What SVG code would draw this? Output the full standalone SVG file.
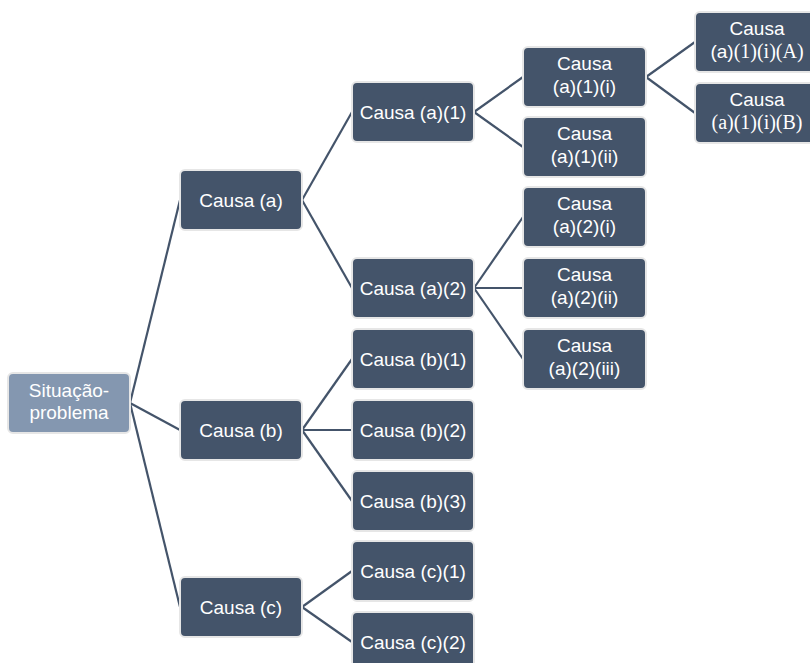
<svg xmlns="http://www.w3.org/2000/svg" width="810" height="663" viewBox="0 0 810 663">
<style>
.n rect{fill:#44546A;stroke:#E6E6E6;stroke-width:2}
#sp rect{fill:#8497B0}
text{font-family:"Liberation Sans",Arial,sans-serif;font-size:19px;fill:#FFFFFF;text-anchor:middle}
.m{font-family:"Liberation Serif","Times New Roman",serif;font-size:20px}
#edges line{stroke:#44546A;stroke-width:2.2}
</style>
<rect width="810" height="663" fill="#FFFFFF"/>
<g id="edges">
<line x1="130" y1="403" x2="180" y2="200"/>
<line x1="130" y1="403" x2="180" y2="430"/>
<line x1="130" y1="403" x2="180" y2="607"/>
<line x1="302" y1="200" x2="352" y2="112"/>
<line x1="302" y1="200" x2="352" y2="288"/>
<line x1="302" y1="430" x2="352" y2="359"/>
<line x1="302" y1="430" x2="352" y2="430"/>
<line x1="302" y1="430" x2="352" y2="501"/>
<line x1="302" y1="607" x2="352" y2="571"/>
<line x1="302" y1="607" x2="352" y2="642"/>
<line x1="474" y1="112" x2="523" y2="77"/>
<line x1="474" y1="112" x2="523" y2="147"/>
<line x1="474" y1="288" x2="523" y2="217"/>
<line x1="474" y1="288" x2="523" y2="288"/>
<line x1="474" y1="288" x2="523" y2="359"/>
<line x1="646" y1="77" x2="695" y2="42"/>
<line x1="646" y1="77" x2="695" y2="113"/>
</g>
<g id="sp" class="n"><rect x="8" y="373" width="122" height="60" rx="5"/><text x="69" y="397">Situação-</text><text x="69" y="419">problema</text></g>
<g id="a" class="n"><rect x="180" y="170" width="122" height="60" rx="5"/><text x="241" y="207">Causa (a)</text></g>
<g id="b" class="n"><rect x="180" y="400" width="122" height="60" rx="5"/><text x="241" y="437">Causa (b)</text></g>
<g id="c" class="n"><rect x="180" y="577" width="122" height="60" rx="5"/><text x="241" y="614">Causa (c)</text></g>
<g id="a1" class="n"><rect x="352" y="82" width="122" height="60" rx="5"/><text x="413" y="119">Causa (a)(1)</text></g>
<g id="a2" class="n"><rect x="352" y="258" width="122" height="60" rx="5"/><text x="413" y="295">Causa (a)(2)</text></g>
<g id="b1" class="n"><rect x="352" y="329" width="122" height="60" rx="5"/><text x="413" y="366">Causa (b)(1)</text></g>
<g id="b2" class="n"><rect x="352" y="400" width="122" height="60" rx="5"/><text x="413" y="437">Causa (b)(2)</text></g>
<g id="b3" class="n"><rect x="352" y="471" width="122" height="60" rx="5"/><text x="413" y="508">Causa (b)(3)</text></g>
<g id="c1" class="n"><rect x="352" y="541" width="122" height="60" rx="5"/><text x="413" y="578">Causa (c)(1)</text></g>
<g id="c2" class="n"><rect x="352" y="612" width="122" height="60" rx="5"/><text x="413" y="649">Causa (c)(2)</text></g>
<g id="a1i" class="n"><rect x="523" y="47" width="123" height="60" rx="5"/><text x="584.5" y="70">Causa</text><text x="584.5" y="93">(a)(1)(i)</text></g>
<g id="a1ii" class="n"><rect x="523" y="117" width="123" height="60" rx="5"/><text x="584.5" y="140">Causa</text><text x="584.5" y="163">(a)(1)(ii)</text></g>
<g id="a2i" class="n"><rect x="523" y="187" width="123" height="60" rx="5"/><text x="584.5" y="210">Causa</text><text x="584.5" y="233">(a)(2)(i)</text></g>
<g id="a2ii" class="n"><rect x="523" y="258" width="123" height="60" rx="5"/><text x="584.5" y="281">Causa</text><text x="584.5" y="304">(a)(2)(ii)</text></g>
<g id="a2iii" class="n"><rect x="523" y="329" width="123" height="60" rx="5"/><text x="584.5" y="352">Causa</text><text x="584.5" y="375">(a)(2)(iii)</text></g>
<g id="a1iA" class="n"><rect x="695" y="12" width="124" height="60" rx="5"/><text x="757" y="35">Causa</text><text x="757" y="58">(a)<tspan class="m">(1)(i)(A)</tspan></text></g>
<g id="a1iB" class="n"><rect x="695" y="83" width="124" height="60" rx="5"/><text x="757" y="106">Causa</text><text x="757" y="129" class="m">(a)(1)(i)(B)</text></g>
</svg>
